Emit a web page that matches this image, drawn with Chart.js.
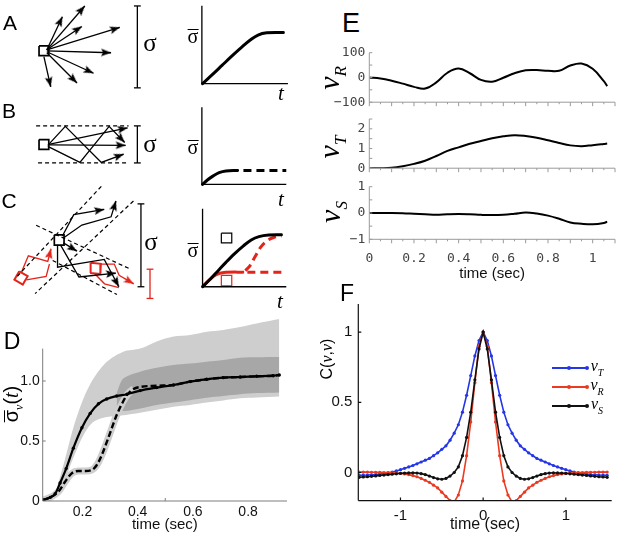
<!DOCTYPE html>
<html><head><meta charset="utf-8">
<script src="https://cdn.jsdelivr.net/npm/chart.js@4.4.1/dist/chart.umd.min.js"></script>
<style>
html,body{margin:0;padding:0;background:#fff;}
#wrap{position:relative;width:617px;height:534px;overflow:hidden;background:#fff;}
canvas{position:absolute;}
.t{position:absolute;white-space:nowrap;transform:translate(-50%,-50%);line-height:1;color:#000;}
.r{transform:translate(-50%,-50%) rotate(-90deg);}
.sans{font-family:'Liberation Sans',Arial,sans-serif;}
.serif{font-family:'Liberation Serif','Times New Roman',serif;}
.ov{display:inline-block;border-top:1.5px solid #000;line-height:0.55;padding-top:1px;}
.ln{position:absolute;height:2px;}
.dot{position:absolute;width:4px;height:4px;border-radius:2px;}
</style></head><body><div id="wrap">
<canvas id="cD" width="300" height="234" style="left:0;top:300px;width:300px;height:234px"></canvas>
<canvas id="cE1" width="317" height="76" style="left:300px;top:38px;width:317px;height:76px"></canvas>
<canvas id="cE2" width="317" height="75" style="left:300px;top:105px;width:317px;height:75px"></canvas>
<canvas id="cE3" width="317" height="112" style="left:300px;top:172px;width:317px;height:112px"></canvas>
<canvas id="cF" width="317" height="254" style="left:300px;top:280px;width:317px;height:254px"></canvas>
<canvas id="schem" width="300" height="320" style="left:0;top:0;width:300px;height:320px"></canvas>

<!-- panel letters -->
<div class="t sans" style="left:10px;top:22px;font-size:21px">A</div>
<div class="t sans" style="left:9px;top:110px;font-size:21px">B</div>
<div class="t sans" style="left:9px;top:200px;font-size:21px">C</div>
<div class="t sans" style="left:12px;top:341px;font-size:23px">D</div>
<div class="t sans" style="left:351px;top:23px;font-size:27px">E</div>
<div class="t sans" style="left:347px;top:293px;font-size:23px">F</div>
<!-- sigma symbols -->
<div class="t serif" style="left:150px;top:42px;font-size:25px">σ</div>
<div class="t serif" style="left:150px;top:143px;font-size:25px">σ</div>
<div class="t serif" style="left:151px;top:241px;font-size:25px">σ</div>
<div class="t serif" style="left:193px;top:36px;font-size:20px"><span class="ov">σ</span></div>
<div class="t serif" style="left:193px;top:147px;font-size:20px"><span class="ov">σ</span></div>
<div class="t serif" style="left:193px;top:250px;font-size:20px"><span class="ov">σ</span></div>
<div class="t serif" style="left:281px;top:93px;font-size:21px;font-style:italic">t</div>
<div class="t serif" style="left:281px;top:199px;font-size:21px;font-style:italic">t</div>
<div class="t serif" style="left:280px;top:301px;font-size:21px;font-style:italic">t</div>
<!-- axis labels -->
<div class="t r sans" style="left:13px;top:404px;font-size:20px"><span class="ov" style="border-top-width:1.3px">σ</span><sub class="serif" style="font-size:12px;font-style:italic">v</sub>(<i class="serif">t</i>)</div>
<div class="t r serif" style="left:331px;top:78px;font-size:30px;font-style:italic">v<sub style="font-size:17px">R</sub></div>
<div class="t r serif" style="left:331px;top:147px;font-size:30px;font-style:italic">v<sub style="font-size:17px">T</sub></div>
<div class="t r serif" style="left:332px;top:212px;font-size:30px;font-style:italic">v<sub style="font-size:17px">S</sub></div>
<div class="t r sans" style="left:327px;top:359px;font-size:16px">C(<i class="serif">v</i>,<i class="serif">v</i>)</div>
<!-- F legend -->
<div class="ln" style="left:552px;top:367px;width:36px;background:#2436e6"></div>
<div class="dot" style="left:567px;top:366px;background:#2436e6"></div>
<div class="dot" style="left:585px;top:366px;background:#2436e6"></div>
<div class="t serif" style="left:597px;top:368px;font-size:16px;font-style:italic">v<sub style="font-size:10px">T</sub></div>
<div class="ln" style="left:552px;top:386px;width:36px;background:#ea3a22"></div>
<div class="dot" style="left:567px;top:385px;background:#ea3a22"></div>
<div class="dot" style="left:585px;top:385px;background:#ea3a22"></div>
<div class="t serif" style="left:597px;top:387px;font-size:16px;font-style:italic">v<sub style="font-size:10px">R</sub></div>
<div class="ln" style="left:552px;top:405px;width:36px;background:#111"></div>
<div class="dot" style="left:567px;top:404px;background:#111"></div>
<div class="dot" style="left:585px;top:404px;background:#111"></div>
<div class="t serif" style="left:597px;top:406px;font-size:16px;font-style:italic">v<sub style="font-size:10px">S</sub></div>
</div>
<script>
// ================= DATA =================
// Panel D: mean spread vs time
const dTimeSolid = [0.057,0.083,0.101,0.119,0.141,0.167,0.198,0.228,0.258,0.288,0.324,0.361,0.409,0.469,0.530,0.590,0.650,0.710,0.771,0.831,0.891,0.913];
const dSolid     = [0.008,0.03,0.06,0.15,0.27,0.44,0.61,0.73,0.81,0.85,0.875,0.89,0.92,0.945,0.967,0.995,1.014,1.028,1.033,1.039,1.044,1.05];
const dTimeDashed = [0.057,0.083,0.113,0.137,0.161,0.185,0.210,0.234,0.252,0.270,0.288,0.306,0.324,0.343,0.361,0.385,0.409,0.469,0.530,0.590,0.650,0.710,0.771,0.831,0.891,0.913];
const dDashed     = [0.008,0.03,0.078,0.16,0.23,0.25,0.25,0.258,0.30,0.383,0.49,0.605,0.717,0.81,0.883,0.933,0.95,0.96,0.967,0.995,1.014,1.028,1.033,1.039,1.044,1.05];
const dBandTime       = [0.057,0.095,0.131,0.167,0.204,0.240,0.288,0.348,0.409,0.469,0.530,0.590,0.650,0.710,0.771,0.831,0.913];
const dBandLightUpper = [0.0,0.05,0.30,0.61,0.856,1.02,1.16,1.244,1.27,1.33,1.37,1.383,1.41,1.425,1.45,1.48,1.517];
const dBandLightLower = [0.0,0.03,0.15,0.36,0.55,0.66,0.70,0.715,0.736,0.76,0.786,0.80,0.82,0.838,0.856,0.862,0.87];
const dBandDarkTime  = [0.324,0.348,0.409,0.469,0.530,0.590,0.650,0.710,0.771,0.831,0.913];
const dBandDarkUpper = [0.90,1.02,1.078,1.11,1.133,1.145,1.16,1.175,1.194,1.198,1.2];
const dBandDarkLower = [0.78,0.75,0.77,0.80,0.82,0.84,0.86,0.875,0.89,0.90,0.905];
const dXTicks = [0.2,0.4,0.6,0.8];
const dYTicks = [0,0.5,1.0];

// Panel E: velocity components vs time
const eTime = [0,0.05,0.1,0.15,0.2,0.25,0.3,0.35,0.4,0.45,0.5,0.55,0.6,0.65,0.7,0.75,0.8,0.85,0.9,0.95,1.0,1.05,1.065];
const eVR = [0,-4,-13,-25,-38,-45,-20,19,36,17,-10,-17,-1,17,29,30,27,27,48,56,35,-15,-35];
const eVT = [0,0,0.02,0.1,0.22,0.38,0.62,0.88,1.06,1.24,1.38,1.52,1.62,1.68,1.64,1.55,1.42,1.28,1.16,1.12,1.17,1.23,1.25];
const eVS = [0,0,0,-0.01,-0.03,-0.05,-0.07,-0.05,-0.04,-0.05,-0.07,-0.08,-0.07,-0.03,0.02,-0.02,-0.1,-0.22,-0.36,-0.41,-0.43,-0.38,-0.33];
const eXTicks = [0,0.2,0.4,0.6,0.8,1];
const eYTicksR = [-100,0,100];
const eYTicksT = [0,1,2];
const eYTicksS = [-1,0,1];

// Panel F: autocorrelations
const fLag = [-1.5,-1.45,-1.4,-1.35,-1.3,-1.25,-1.2,-1.15,-1.1,-1.05,-1.0,-0.95,-0.9,-0.85,-0.8,-0.75,-0.7,-0.65,-0.6,-0.55,-0.5,-0.45,-0.4,-0.35,-0.3,-0.25,-0.2,-0.15,-0.1,-0.05,0,
  0.05,0.1,0.15,0.2,0.25,0.3,0.35,0.4,0.45,0.5,0.55,0.6,0.65,0.7,0.75,0.8,0.85,0.9,0.95,1.0,1.05,1.1,1.15,1.2,1.25,1.3,1.35,1.4,1.45,1.5];
const fCT = [-0.02,-0.019,-0.018,-0.016,-0.014,-0.011,-0.008,-0.003,0.003,0.011,0.02,0.03,0.04,0.05,0.062,0.075,0.088,0.10,0.12,0.14,0.165,0.19,0.23,0.28,0.34,0.43,0.55,0.69,0.83,0.94,1.0,
  0.94,0.83,0.69,0.55,0.43,0.34,0.28,0.23,0.19,0.165,0.14,0.12,0.10,0.088,0.075,0.062,0.05,0.04,0.03,0.02,0.011,0.003,-0.003,-0.008,-0.011,-0.014,-0.016,-0.018,-0.019,-0.02];
const fCR = [0.003,0.003,0.003,0.002,0.002,0.001,0.0,-0.001,-0.002,-0.004,-0.007,-0.01,-0.015,-0.022,-0.03,-0.042,-0.055,-0.07,-0.09,-0.11,-0.14,-0.17,-0.20,-0.21,-0.16,-0.06,0.12,0.36,0.64,0.90,1.0,
  0.90,0.64,0.36,0.12,-0.06,-0.16,-0.21,-0.20,-0.17,-0.14,-0.11,-0.09,-0.07,-0.055,-0.042,-0.03,-0.022,-0.015,-0.01,-0.007,-0.004,-0.002,-0.001,0.0,0.001,0.002,0.002,0.003,0.003,0.003];
const fCS = [-0.034,-0.032,-0.03,-0.027,-0.024,-0.021,-0.018,-0.015,-0.012,-0.009,-0.006,-0.004,-0.003,-0.002,-0.004,-0.008,-0.015,-0.025,-0.036,-0.045,-0.048,-0.042,-0.025,0.0,0.04,0.12,0.25,0.43,0.66,0.88,1.0,
  0.88,0.66,0.43,0.25,0.12,0.04,0.0,-0.025,-0.042,-0.048,-0.045,-0.036,-0.025,-0.015,-0.008,-0.004,-0.002,-0.003,-0.004,-0.006,-0.009,-0.012,-0.015,-0.018,-0.021,-0.024,-0.027,-0.03,-0.032,-0.034];
const fXTicks = [-1,0,1];
const fYTicks = [0,0.5,1];

// Schematics A-C (diagram units inside the 300x320 schematic box)
const sqA = [[36,43],[46,43],[46,53],[36,53],[36,43]];
const raysA = [[[44,47],[83,2]],[[44,47],[60,13]],[[44,47],[80,23]],[[44,47],[119,24]],
  [[44,48],[110,50]],[[44,49],[92,71]],[[44,50],[75,81]],[[41,54],[48,85]]];
const sigmaA = [137,2,86];
const axesA = [[203.3,1.7],[203.3,81.7],[291.7,81.7]];
const curveA = [[204,81.7],[214,72.5],[224,63],[234,53.5],[244,44.5],[253,37],[261,31.8],[270,29.6],[287,29.3]];

const wallsB = [[[33,125],[128,125]],[[35,163],[128,163]]];
const sqB = [[36,139],[46,139],[46,149],[36,149],[36,139]];
const raysB = [[[45,145],[63,125.5],[100,162.5],[123,154]],
  [[45,146],[78,162.5],[108,125.5],[124,142]],
  [[46,144.5],[125,145]],
  [[46,144],[127,127]]];
const sigmaB = [137,125,163];
const axesB = [[203.3,106],[203.3,185],[290,185]];
const curveB = [[204,185],[209,180.5],[215,176.3],[221,173],[228,171.2],[240,170.7]];
const curveBdash = [[246,170.7],[290,170.7]];

const wallsC = [[[100,187],[13,280]],[[133,202],[32,297]],[[33,227],[130,272]],[[50,263],[116,298]]];
const sqC = [[51.7,236.7],[61.7,236.7],[61.7,247.3],[51.7,247.3],[51.7,236.7]];
const raysC = [[[60,238],[71.7,216],[103,210.7]],
  [[61,240],[80,226.7],[110,218.3],[115,202]],
  [[61,245],[75,253.5]],
  [[55,247],[55,270],[103,262],[118,290]],
  [[58,247],[77,280],[115,276]]];
const redSq1 = [[15.7,274.2],[24.3,279.2],[19.3,287.8],[10.7,282.8],[15.7,274.2]];
const redSq2 = [[89,265.5],[99.5,266.5],[99,277],[88.5,276],[89,265.5]];
const redRays = [[[18,275],[25,258.3],[45,264],[48.3,251]],
  [[99.3,266.7],[113.3,266.7],[118.3,278.3],[133.3,287]]];
const redLines = [[[23,283],[43.3,279.3],[46.7,266.7]],[[93.3,276.7],[103.3,287],[118,291]]];
const sigmaC = [140.7,205,290];
const sigmaCred = [150,272,302];
const axesC = [[204,210],[204,290],[290,290]];
const curveCblack = [[204,290],[212,282],[220,273.5],[228,265],[237,256],[246,248],[254,242],[262,238.6],[272,237],[285,236.7]];
const curveCred = [[204,290],[211,283],[218,277.5],[226,275.3],[246.7,275]];
const curveCredDash1 = [[248,273.5],[253,268],[258,259],[264,249],[270,243],[277,239.5],[285,238]];
const curveCredDash2 = [[250,275],[290,275]];
const boxCblack = [[223.3,235],[234,235],[234,245],[223.3,245],[223.3,235]];
const boxCred = [[223.3,278.3],[234,278.3],[234,289],[223.3,289],[223.3,278.3]];

// ================= HELPERS =================
const SANS = "'Liberation Sans', Arial, sans-serif";
const MONO = "'DejaVu Sans Mono', 'Liberation Mono', monospace";
const BLK = '#000', RED = '#e3241b';
const pts = (xs, ys) => xs.map((x, i) => ({x, y: ys[i]}));
const noAnim = {responsive:false, animation:false, events:[]};
const noPlug = {legend:{display:false}, tooltip:{enabled:false}};

function axisPlugin(cfg) {
  return {id:'axisLines', afterDatasetsDraw(chart) {
    const ctx = chart.ctx, X = v => chart.scales.x.getPixelForValue(v), Y = v => chart.scales.y.getPixelForValue(v);
    ctx.save(); ctx.strokeStyle = cfg.color; ctx.lineWidth = cfg.width || 1;
    const ax = X(cfg.yAxisAt), ay = Y(cfg.xAxisAt);
    ctx.beginPath();
    if (cfg.yLine) { ctx.moveTo(ax, Y(cfg.yLine[0])); ctx.lineTo(ax, Y(cfg.yLine[1])); }
    if (cfg.xLine) { ctx.moveTo(X(cfg.xLine[0]), ay); ctx.lineTo(X(cfg.xLine[1]), ay); }
    (cfg.yTicks || []).forEach(([v, l]) => { ctx.moveTo(ax, Y(v)); ctx.lineTo(ax + l, Y(v)); });
    (cfg.xTicks || []).forEach(([v, l]) => { ctx.moveTo(X(v), ay); ctx.lineTo(X(v), ay + l); });
    ctx.stroke(); ctx.restore();
  }};
}

// ================= PANEL D =================
new Chart(document.getElementById('cD'), {
  type:'line',
  data:{datasets:[
    {data:pts(dBandTime,dBandLightUpper), borderColor:'transparent', borderWidth:0, pointRadius:0, fill:'+1', backgroundColor:'#cecece', tension:0.3, order:10},
    {data:pts(dBandTime,dBandLightLower), borderColor:'transparent', borderWidth:0, pointRadius:0, fill:false, tension:0.3, order:11},
    {data:pts(dBandDarkTime,dBandDarkUpper), borderColor:'transparent', borderWidth:0, pointRadius:0, fill:'+1', backgroundColor:'#a7a7a7', tension:0.3, order:8},
    {data:pts(dBandDarkTime,dBandDarkLower), borderColor:'transparent', borderWidth:0, pointRadius:0, fill:false, tension:0.3, order:9},
    {data:pts(dTimeDashed,dDashed), borderColor:'#cfcfcf', borderWidth:7, pointRadius:0, fill:false, cubicInterpolationMode:'monotone', order:5,
      segment:{borderColor:c => c.p0.parsed.x < 0.37 ? '#cfcfcf' : 'rgba(0,0,0,0)'}},
    {data:pts(dTimeSolid,dSolid), borderColor:'#000', borderWidth:2.2, pointRadius:1.7, pointBackgroundColor:'#000', pointBorderWidth:0, fill:false, cubicInterpolationMode:'monotone', order:1},
    {data:pts(dTimeDashed,dDashed), borderColor:'#000', borderWidth:2.4, borderDash:[6,3], pointRadius:0, fill:false, cubicInterpolationMode:'monotone', order:0}
  ]},
  options:{...noAnim, layout:{padding:{top:15,right:13,left:0,bottom:0}}, plugins:noPlug,
    scales:{
      x:{type:'linear', min:0.056, max:0.941, bounds:'data',
        afterBuildTicks:s => { s.ticks = dXTicks.map(v => ({value:v})); },
        ticks:{callback:v => v.toFixed(1), font:{family:SANS,size:14}, color:'#111', padding:3, maxRotation:0, autoSkip:false},
        grid:{display:false, drawTicks:false}, border:{display:false},
        title:{display:true, text:'time (sec)', font:{family:SANS,size:15}, color:'#111', padding:{top:0,bottom:0}},
        afterFit:s => { s.height = 33; }},
      y:{type:'linear', min:0, max:1.55, bounds:'data',
        afterBuildTicks:s => { s.ticks = dYTicks.map(v => ({value:v})); },
        ticks:{callback:v => v === 0 ? '0' : v.toFixed(1), font:{family:SANS,size:14}, color:'#111', padding:3},
        grid:{display:false, drawTicks:false}, border:{display:false},
        afterFit:s => { s.width = 42.7; }}
    }},
  plugins:[axisPlugin({color:'#7d7d7d', width:1, yAxisAt:0.056, xAxisAt:0, yLine:[0,1.27], xLine:[0.056,0.941],
    yTicks:[[0.5,3],[1.0,3]], xTicks:[[0.5,-3]]})]
});

// ================= PANEL E =================
const eXMarks = [];
for (let k = 0; k <= 22; k++) eXMarks.push([k * 0.05, k % 2 === 0 ? 4 : 2]);
function eChart(id, ys, yMin, yMax, yTicks, yMarks, padTop, padBottom, showX) {
  new Chart(document.getElementById(id), {
    type:'line',
    data:{datasets:[{data:pts(eTime, ys), borderColor:'#000', borderWidth:2, pointRadius:0, fill:false, tension:0.4}]},
    options:{...noAnim, layout:{padding:{top:padTop, right:2, left:0, bottom:padBottom}}, plugins:noPlug,
      scales:{
        x:{type:'linear', min:0, max:1.1, bounds:'data', display:showX,
          afterBuildTicks:s => { s.ticks = eXTicks.map(v => ({value:v})); },
          ticks:{callback:v => String(v), font:{family:MONO,size:13}, color:'#444', padding:12, maxRotation:0, autoSkip:false},
          grid:{display:false, drawTicks:false}, border:{display:false},
          title:{display:true, text:'time (sec)', font:{family:SANS,size:15}, color:'#111', padding:{top:0,bottom:1}},
          afterFit:s => { if (showX) s.height = 44.7; }},
        y:{type:'linear', min:yMin, max:yMax, bounds:'data',
          afterBuildTicks:s => { s.ticks = yTicks.map(v => ({value:v})); },
          ticks:{callback:v => v < 0 ? '\u2212' + (-v) : String(v), font:{family:MONO,size:13}, color:'#444', padding:4},
          grid:{display:false, drawTicks:false}, border:{display:false},
          afterFit:s => { s.width = 69.3; }}
      }},
    plugins:[axisPlugin({color:'#9a9a9a', width:1, yAxisAt:0, xAxisAt:yMin, yLine:[yMin,yMax], xLine:[0,1.1],
      yTicks:yMarks.map(v => [v,3]), xTicks:eXMarks})]
  });
}
eChart('cE1', eVR, -100, 100, eYTicksR, [-100,-50,0,50,100], 14.7, 9.7, false);
eChart('cE2', eVT, 0, 2.5, eYTicksT, [0,0.5,1,1.5,2,2.5], 14, 10, false);
eChart('cE3', eVS, -1, 1, eYTicksS, [-1,-0.5,0,0.5,1], 14.7, 0, true);

// ================= PANEL F =================
const fLine = (ys, col, ord) => ({data:pts(fLag, ys), borderColor:col, borderWidth:1.6, pointRadius:1.6,
  pointBackgroundColor:col, pointBorderWidth:0, fill:false, tension:0, order:ord});
new Chart(document.getElementById('cF'), {
  type:'line',
  data:{datasets:[fLine(fCT,'#2436e6',2), fLine(fCR,'#ea3a22',1), fLine(fCS,'#111',0)]},
  options:{...noAnim, layout:{padding:{top:24,right:5.3,left:0,bottom:0}}, plugins:noPlug,
    scales:{
      x:{type:'linear', min:-1.51, max:1.555, bounds:'data',
        afterBuildTicks:s => { s.ticks = fXTicks.map(v => ({value:v})); },
        ticks:{callback:v => String(v), font:{family:SANS,size:15}, color:'#111', padding:6, maxRotation:0, autoSkip:false},
        grid:{display:false, drawTicks:false}, border:{display:false},
        title:{display:true, text:'time (sec)', font:{family:SANS,size:16}, color:'#111', padding:{top:0,bottom:0}},
        afterFit:s => { s.height = 33.4; }},
      y:{type:'linear', min:-0.2, max:1.2, bounds:'data',
        afterBuildTicks:s => { s.ticks = fYTicks.map(v => ({value:v})); },
        ticks:{callback:v => String(v), font:{family:SANS,size:15}, color:'#111', padding:6},
        grid:{display:false, drawTicks:false}, border:{display:false},
        afterFit:s => { s.width = 58.3; }}
    }},
  plugins:[axisPlugin({color:'#111', width:1.2, yAxisAt:-1.51, xAxisAt:-0.2, yLine:[-0.2,1.2], xLine:[-1.51,1.555],
    yTicks:fYTicks.map(v => [v,3]), xTicks:fXTicks.map(v => [v,-3])})]
});

// ================= SCHEMATICS A-C =================
function head(color) {
  const c = document.createElement('canvas'); c.width = 8; c.height = 22;
  const g = c.getContext('2d'); g.fillStyle = color; g.beginPath();
  g.moveTo(4, 11); g.lineTo(7.8, 21); g.lineTo(4, 19); g.lineTo(0.2, 21); g.closePath(); g.fill();
  return c;
}
const headBlack = head(BLK), headRed = head(RED);
function mk(points, o = {}) {
  const last = points.length - 1;
  let rot = 0;
  if (o.arrow) { const [x1, y1] = points[last - 1], [x2, y2] = points[last]; rot = Math.atan2(x2 - x1, -(y2 - y1)) * 180 / Math.PI; }
  return {
    data: points.map(p => ({x:p[0], y:p[1]})),
    borderColor: o.color || BLK, borderWidth: o.w || 1.3, borderDash: o.dash || [],
    tension: o.tension || 0, fill:false, clip:false,
    pointRadius: o.arrow ? points.map((p, i) => i === last ? 1 : 0) : 0,
    pointStyle: o.arrow ? (o.color === RED ? headRed : headBlack) : 'circle',
    rotation: rot, pointBorderWidth:0, borderCapStyle: o.cap || 'butt', borderJoinStyle:'miter'
  };
}
function bar([x, y1, y2], color) {
  return [mk([[x, y1], [x, y2]], {color, w:1.3}), mk([[x - 3.5, y1], [x + 3.5, y1]], {color, w:1.3}), mk([[x - 3.5, y2], [x + 3.5, y2]], {color, w:1.3})];
}
const sets = [];
// A
sets.push(mk(sqA, {w:1.7}));
raysA.forEach(r => sets.push(mk(r, {arrow:true})));
sets.push(...bar(sigmaA, BLK));
sets.push(mk(axesA, {w:1.3}));
sets.push(mk(curveA, {w:3, tension:0.35, cap:'round'}));
// B
wallsB.forEach(w => sets.push(mk(w, {dash:[4,3], w:1.2})));
sets.push(mk(sqB, {w:1.7}));
raysB.forEach(r => sets.push(mk(r, {arrow:true})));
sets.push(...bar(sigmaB, BLK));
sets.push(mk(axesB, {w:1.3}));
sets.push(mk(curveB, {w:3, tension:0.35, cap:'round'}));
sets.push(mk(curveBdash, {w:3, dash:[8,5]}));
// C
wallsC.forEach(w => sets.push(mk(w, {dash:[4,3], w:1.2})));
sets.push(mk(sqC, {w:1.7}));
raysC.forEach(r => sets.push(mk(r, {arrow:true})));
sets.push(mk(redSq1, {color:RED, w:2}));
sets.push(mk(redSq2, {color:RED, w:2}));
redRays.forEach(r => sets.push(mk(r, {color:RED, arrow:true})));
redLines.forEach(r => sets.push(mk(r, {color:RED})));
sets.push(...bar(sigmaC, BLK));
sets.push(...bar(sigmaCred, RED));
sets.push(mk(axesC, {w:1.3}));
sets.push(mk(curveCblack, {w:3, tension:0.35, cap:'round'}));
sets.push(mk(curveCred, {color:RED, w:3, tension:0.3}));
sets.push(mk(curveCredDash1, {color:RED, w:3, tension:0.35, dash:[8,5]}));
sets.push(mk(curveCredDash2, {color:RED, w:3, dash:[8,5]}));
sets.push(mk(boxCblack, {w:1.2}));
sets.push(mk(boxCred, {color:RED, w:1.2}));

new Chart(document.getElementById('schem'), {
  type:'line',
  data:{datasets:sets},
  options:{...noAnim, layout:{padding:0}, plugins:noPlug,
    scales:{x:{type:'linear', min:0, max:300, display:false}, y:{type:'linear', min:0, max:320, reverse:true, display:false}}}
});
</script>
</body></html>
